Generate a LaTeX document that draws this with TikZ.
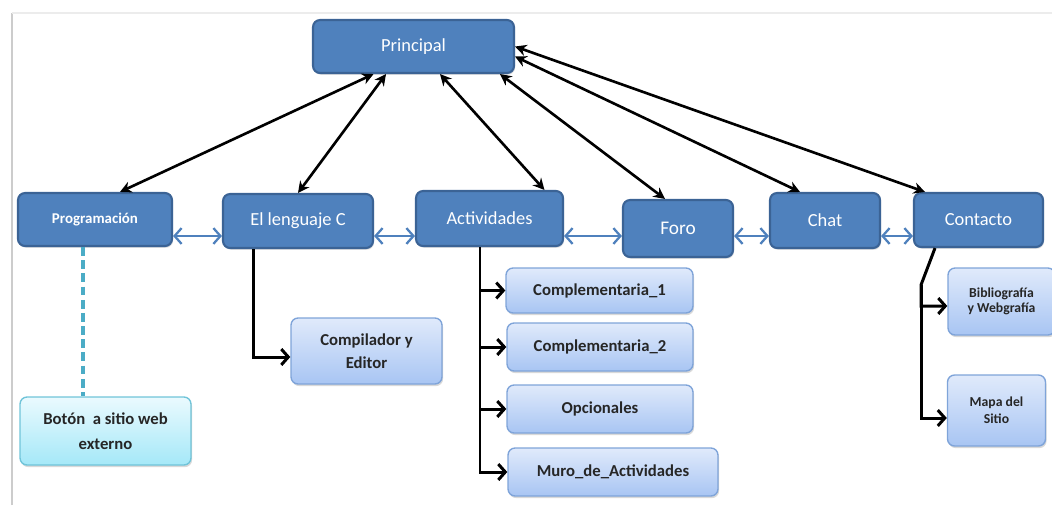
\documentclass[tikz,border=0pt]{standalone}
\usepackage{fontspec}
\setmainfont{Carlito}
\usetikzlibrary{arrows.meta,shadows}
\definecolor{mainfill}{HTML}{4F81BD}
\definecolor{maindraw}{HTML}{3B6395}
\definecolor{subtop}{HTML}{E0EAFB}
\definecolor{subbot}{HTML}{A8C5F3}
\definecolor{subdraw}{HTML}{7FA4D9}
\definecolor{btntop}{HTML}{EAFAFE}
\definecolor{btnbot}{HTML}{A5E8F8}
\definecolor{btndraw}{HTML}{70C4D9}
\definecolor{linkblue}{HTML}{4F81BD}
\definecolor{dashteal}{HTML}{4BACC6}

\begin{document}
\begin{tikzpicture}[x=0.02cm,y=-0.02cm,
    mainbox/.style={draw=maindraw, line width=1.2pt, fill=mainfill, rounded corners=4pt,
        text=white, font=\fontsize{10.5}{12}\selectfont,
        drop shadow={opacity=0.25, shadow xshift=0.6pt, shadow yshift=-1pt}},
    subbox/.style={draw=subdraw, line width=0.8pt, top color=subtop, bottom color=subbot,
        rounded corners=4pt, text=black!85, align=center,
        font=\bfseries\fontsize{9.5}{13}\selectfont,
        drop shadow={opacity=0.3, shadow xshift=0.6pt, shadow yshift=-1.2pt}},
    btnbox/.style={subbox, draw=btndraw, top color=btntop, bottom color=btnbot},
    twoway/.style={line width=1.5pt, {Stealth[length=6.5pt,width=6.5pt]}-{Stealth[length=6.5pt,width=6.5pt]}},
    branch/.style={line width=1.7pt, -{Straight Barb[length=4pt,width=9pt]}},
    sibling/.style={draw=linkblue, line width=1.3pt,
        {Straight Barb[length=4pt,width=9pt]}-{Straight Barb[length=4pt,width=9pt]}}
]
    \useasboundingbox (0,0) rectangle (1052,505);
    \draw[gray!40, line width=1.6pt] (12,505) -- (12,13);
    \draw[gray!15, line width=1.6pt] (12,13) -- (1052,13);

    \node[mainbox, minimum width=4.02cm, minimum height=1.06cm] (principal) at (413.5,46.5) {Principal};

    \node[mainbox, minimum width=3.08cm, minimum height=1.06cm, font=\bfseries\fontsize{8.5}{10}\selectfont] (prog) at (95,219.5) {Programación};
    \node[mainbox, minimum width=3.0cm, minimum height=1.08cm] (lang) at (298,221) {El lenguaje C};
    \node[mainbox, minimum width=2.94cm, minimum height=1.1cm] (act) at (489.5,218.5) {Actividades};
    \node[mainbox, minimum width=2.2cm, minimum height=1.14cm, font=\fontsize{11}{12}\selectfont] (foro) at (678,228.5) {Foro};
    \node[mainbox, minimum width=2.2cm, minimum height=1.1cm] (chat) at (825,220.5) {Chat};
    \node[mainbox, minimum width=2.58cm, minimum height=1.08cm] (contact) at (978.5,220) {Contacto};

    \node[btnbox, minimum width=3.42cm, minimum height=1.36cm, font=\bfseries\fontsize{9.5}{14}\selectfont] (boton) at (105.5,431) {Botón~~a sitio web\\externo};
    \node[subbox, minimum width=3.02cm, minimum height=1.32cm, font=\bfseries\fontsize{9.5}{13}\selectfont] (compil) at (366.5,351) {Compilador y\\Editor};

    \node[subbox, minimum width=3.74cm, minimum height=0.9cm] (comp1) at (599.5,290.5) {Complementaria\_1};
    \node[subbox, minimum width=3.72cm, minimum height=0.96cm] (comp2) at (600,347) {Complementaria\_2};
    \node[subbox, minimum width=3.72cm, minimum height=0.96cm] (opc) at (600,409) {Opcionales};
    \node[subbox, minimum width=4.2cm, minimum height=0.96cm] (muro) at (613,472) {Muro\_de\_Actividades};

    \node[subbox, minimum width=2.14cm, minimum height=1.34cm, font=\bfseries\fontsize{7.8}{8.6}\selectfont] (biblio) at (1001.5,301.5) {Bibliografía\\y Webgrafía};
    \node[subbox, minimum width=1.96cm, minimum height=1.42cm, font=\bfseries\fontsize{7.8}{9.6}\selectfont] (mapa) at (996.5,410.5) {Mapa del\\Sitio};

    \draw[twoway] ([xshift=-0.8cm]principal.south) -- ([xshift=0.5cm]prog.north);
    \draw[twoway] ([xshift=-0.55cm]principal.south) -- (lang.north);
    \draw[twoway] ([xshift=0.53cm]principal.south) -- ([xshift=1.1cm]act.north);
    \draw[twoway] ([xshift=1.73cm]principal.south) -- ([xshift=-0.26cm]foro.north);
    \draw[twoway] ([yshift=-0.2cm]principal.east) -- ([xshift=-0.5cm]chat.north);
    \draw[twoway] (principal.east) -- ([xshift=-1.07cm]contact.north);

    \coordinate (row) at (0,236);
    \draw[sibling] (prog.east |- row) -- (lang.west |- row);
    \draw[sibling] (lang.east |- row) -- (act.west |- row);
    \draw[sibling] (act.east |- row) -- (foro.west |- row);
    \draw[sibling] (foro.east |- row) -- (chat.west |- row);
    \draw[sibling] (chat.east |- row) -- (contact.west |- row);

    \draw[dashteal, line width=2pt, dash pattern=on 5pt off 2.5pt] ([xshift=-0.24cm]prog.south) coordinate (d) -- (d |- boton.north);

    \draw[branch] ([xshift=-0.9cm]lang.south) |- ([yshift=-0.12cm]compil.west);

    \draw[branch] ([xshift=-0.19cm]act.south) |- (comp1.west);
    \draw[branch] ([xshift=-0.19cm]act.south) |- (comp2.west);
    \draw[branch] ([xshift=-0.19cm]act.south) |- (opc.west);
    \draw[branch] ([xshift=-0.19cm]act.south) |- (muro.west);

    \coordinate (kink) at (921,285);
    \draw[branch] ([xshift=-0.87cm]contact.south) -- (kink) |- ([yshift=-0.09cm]biblio.west);
    \draw[branch] (kink) |- ([yshift=-0.15cm]mapa.west);
\end{tikzpicture}
\end{document}
